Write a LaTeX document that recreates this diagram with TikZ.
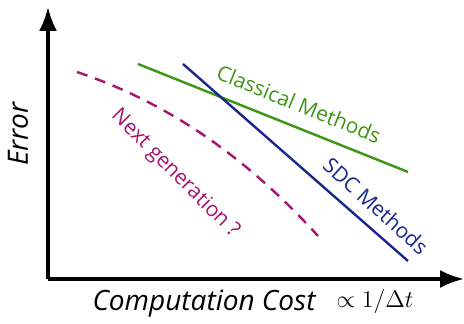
\documentclass[tikz,border=0pt]{standalone}
\usepackage{fontspec}
\setmainfont{Open Sans}
\usepackage{xcolor}
\usetikzlibrary{arrows.meta}
\definecolor{classico}{RGB}{60,150,20}
\definecolor{sdccor}{RGB}{25,40,140}
\definecolor{proxima}{RGB}{165,20,110}
\tikzset{
    eixo/.style={-{Latex[length=12pt,width=9pt]}, line width=1.7pt},
    reta/.style={line width=1.2pt},
    tracejado/.style={reta, dash pattern=on 5.5pt off 4pt},
    rotulo/.style={font=\fontsize{10.5}{12}\selectfont, inner sep=0pt},
    titulo/.style={font=\fontsize{14}{16}\selectfont\itshape, inner sep=0pt}
}

\begin{document}
\begin{tikzpicture}[x=0.5pt, y=-0.5pt]
        \useasboundingbox (0,0) rectangle (464,324);
        % axes
        \coordinate (origem) at (48,279);
        \coordinate (topo) at (48,7);
        \coordinate (fim) at (464,279);
        \draw[eixo] (origem) -- (topo);
        \draw[eixo] (origem) -- (fim);
        \node[titulo, rotate=90] (erro) at (18,134) {Error};
        \node[titulo] (custo) at (204,304) {Computation Cost};
        \node[inner sep=0pt, font=\fontsize{12.5}{14}\selectfont] (escala) at (375,302)
            {$\propto 1/\Delta t$};
        % curves
        \coordinate (c0) at (138,64);
        \coordinate (c1) at (408,172);
        \coordinate (s0) at (183,64);
        \coordinate (s1) at (408,261);
        \coordinate (n0) at (77,72);
        \coordinate (n1) at (318,236);
        \draw[reta, classico] (c0) -- (c1);
        \draw[reta, sdccor] (s0) -- (s1);
        \draw[tracejado, proxima] (n0) .. controls (160,100) and (240,150) .. (n1);
        \node[rotulo, classico, rotate=-22] (classical) at (299,104) {Classical Methods};
        \node[rotulo, sdccor, rotate=-42] (sdc) at (376,206) {SDC Methods};
        \node[rotulo, proxima, rotate=-45] (nextgen) at (175,174) {Next generation ?};
    \end{tikzpicture}
\end{document}
